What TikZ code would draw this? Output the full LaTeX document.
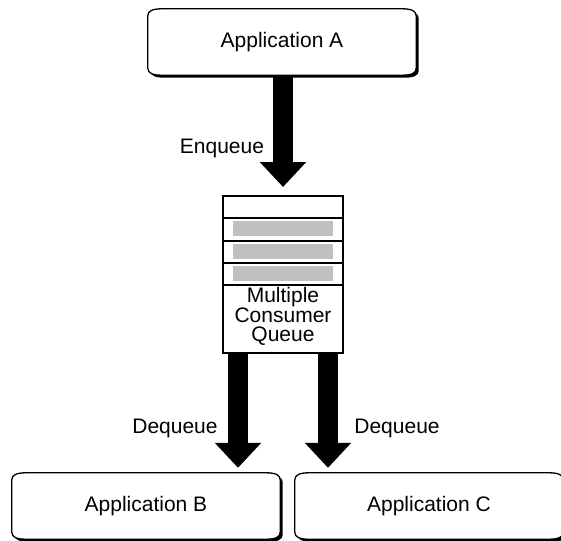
\documentclass[tikz,border=0pt]{standalone}
\usepackage{fontspec}
\setmainfont{Liberation Sans}
\usetikzlibrary{arrows.meta,calc,backgrounds}
\definecolor{qgrey}{RGB}{192,192,192}
\newcommand\appoutline[1]{%
([xshift=14pt]#1.north west) -- ([xshift=-14pt]#1.north east)
 .. controls ([xshift=-5pt]#1.north east) and ([yshift=-2pt]#1.north east) .. ([yshift=-7pt]#1.north east)
 -- ([yshift=7pt]#1.south east)
 .. controls ([yshift=2pt]#1.south east) and ([xshift=-5pt]#1.south east) .. ([xshift=-14pt]#1.south east)
 -- ([xshift=14pt]#1.south west)
 .. controls ([xshift=5pt]#1.south west) and ([yshift=2pt]#1.south west) .. ([yshift=7pt]#1.south west)
 -- ([yshift=-7pt]#1.north west)
 .. controls ([yshift=-2pt]#1.north west) and ([xshift=5pt]#1.north west) .. cycle}
\newcommand\appframe[1]{%
  \begin{scope}[transform canvas={xshift=2.5pt,yshift=-2.5pt}]
    \fill[black] \appoutline{#1};
  \end{scope}
  \draw[line width=1.3pt, fill=white] \appoutline{#1};}
\begin{document}
\begin{tikzpicture}[x=1pt,y=-1pt,
  lbl/.style={font=\fontsize{21}{19}\selectfont, inner sep=0pt},
  appnode/.style={lbl, minimum width=268pt, minimum height=66pt},
  blk/.style={line width=19.5pt, -{Triangle[length=25pt,width=45pt]}}]
\useasboundingbox (0,0) rectangle (561,540);
\node[appnode] (A) at (282,42) {Application A};
\node[appnode] (B) at (146,506) {Application B};
\node[appnode] (C) at (429,506) {Application C};
\node[draw, line width=2pt, fill=white, minimum width=120pt, minimum height=157pt, inner sep=0pt] (Q) at (283,274.5) {};
\begin{scope}[on background layer]
  \appframe{A}
  \appframe{B}
  \appframe{C}
\end{scope}
% queue interior
\foreach \d in {23,46,68,90}{
  \draw[line width=1.5pt] ($(Q.north west)+(0,\d)$) -- ($(Q.north east)+(0,\d)$);}
\foreach \a/\b in {26/41,49/64,71/86}{
  \fill[qgrey] ($(Q.north west)+(11,\a)$) rectangle ($(Q.north east)+(-11,\b)$);}
\node[lbl, align=center] (qt) at ($(Q.north)+(0,121)$) {Multiple\\Consumer\\Queue};
% arrows
\draw[blk] (A.south -| Q.north) -- ($(Q.north)+(0,-8)$);
\draw[blk] ($(Q.south west)+(16,0)$) -- ($(B.north -| Q.south west)+(16,-5)$);
\draw[blk] ($(Q.south east)+(-16,0)$) -- ($(C.north -| Q.south east)+(-16,-5)$);
% labels
\node[lbl] (enq) at (222,148) {Enqueue};
\node[lbl] (dq1) at (175,428) {Dequeue};
\node[lbl] (dq2) at (397,428) {Dequeue};
\end{tikzpicture}
\end{document}
